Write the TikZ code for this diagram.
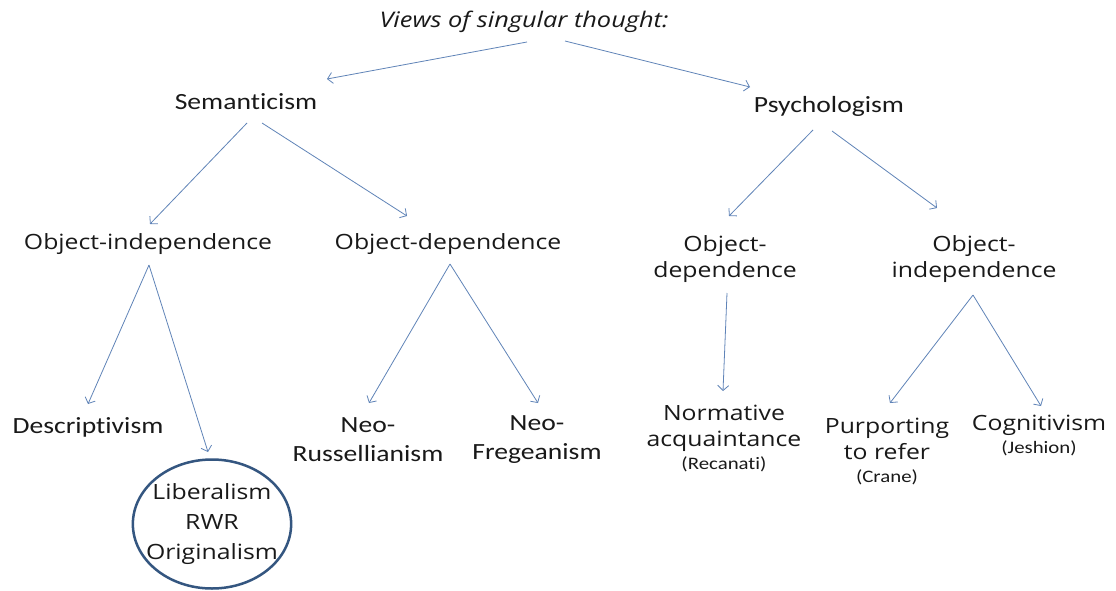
\documentclass[tikz,border=0pt]{standalone}
\usepackage{fontspec}
\setmainfont[FakeStretch=1.18]{Open Sans}
\newfontfamily\carl[FakeStretch=1.19,Ligatures=NoCommon]{Carlito}
\usetikzlibrary{arrows.meta,calc,shapes.geometric}
\definecolor{arrowblue}{RGB}{96,132,184}
\definecolor{ringblue}{RGB}{52,86,128}
\tikzset{
  lbl/.style={inner sep=0pt, align=center, font=\fontsize{21}{26}\selectfont, text=black!90},
  clbl/.style={inner sep=0pt, align=center, font=\carl\fontsize{23.2}{29}\selectfont, text=black!90},
  arr/.style={draw=arrowblue, line width=0.8pt, -{Straight Barb[length=5pt,width=11pt,line width=0.8pt]}},
}
\newcommand{\sm}[1]{{\carl\fontsize{17.5}{18}\selectfont #1}}
\begin{document}
\begin{tikzpicture}[x=1pt,y=-1pt]
\useasboundingbox (0,0) rectangle (1116,591);
\fill[white] (0,0) rectangle (1116,591);
\node[lbl, font=\fontsize{21.5}{26}\selectfont\itshape] (title) at (524,22) {Views of singular thought:};
\node[clbl] (sem) at (246,102) {Semanticism};
\node[clbl] (psy) at (829,106) {Psychologism};
\node[lbl] (oil) at (148,244) {Object-independence};
\node[lbl] (odl) at (448,244) {Object-dependence};
\node[lbl] (odr) at (725,259) {Object-\\dependence};
\node[lbl] (oir) at (974,259) {Object-\\independence};
\node[clbl] (desc) at (88,427) {Descriptivism};
\node[clbl] (neoR) at (368,440) {Neo-\\Russellianism};
\node[clbl] (neoF) at (537,440) {Neo-\\Fregeanism};
\node[lbl] (norm) at (724,439) {Normative\\acquaintance\\[-3pt]\sm{(Recanati)}};
\node[lbl] (purp) at (887,452) {Purporting\\to refer\\[-3pt]\sm{(Crane)}};
\node[lbl] (cog) at (1039,436) {Cognitivism\\[-3pt]\sm{(Jeshion)}};
\node[lbl, font=\fontsize{21}{30}\selectfont, ellipse, draw=ringblue, line width=2.5pt,
      inner xsep=-10pt, inner ysep=4pt,
      minimum width=157pt, minimum height=129pt] (circ) at (212,524) {Liberalism\\RWR\\Originalism};

\draw[arr] ($(title)+(3,20)$) -- ($(sem)+(81,-23)$);
\draw[arr] ($(title)+(41,19)$) -- ($(psy)+(-79,-19)$);
\draw[arr] ($(sem)+(1,21)$) -- ($(oil)+(2,-20)$);
\draw[arr] ($(sem)+(16,21)$) -- ($(odl)+(-41,-28)$);
\draw[arr] ($(psy)+(-16,24)$) -- ($(odr)+(4,-43)$);
\draw[arr] ($(psy)+(3,25)$) -- ($(oir)+(-37,-51)$);
\draw[arr] ($(oil)+(1,21)$) -- ($(desc)+(0,-23)$);
\draw[arr] ($(oil)+(1,21)$) -- ($(circ)+(-4,-72)$);
\draw[arr] ($(odl)+(2,20)$) -- ($(neoR)+(1,-37)$);
\draw[arr] ($(odl)+(2,20)$) -- ($(neoF)+(1,-37)$);
\draw[arr] ($(odr)+(2,34)$) -- ($(norm)+(-1,-48)$);
\draw[arr] ($(oir)+(-1,36)$) -- ($(purp)+(3,-49)$);
\draw[arr] ($(oir)+(-1,36)$) -- ($(cog)+(2,-30)$);
\end{tikzpicture}
\end{document}
